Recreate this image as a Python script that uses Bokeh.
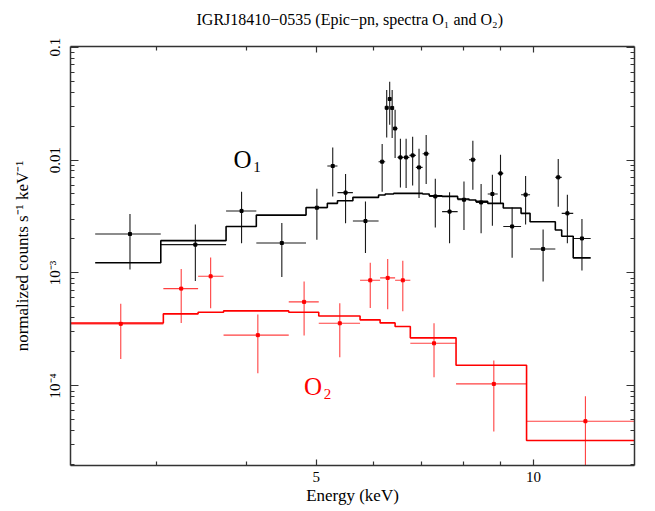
from bokeh.plotting import figure
from bokeh.models import Range1d, FixedTicker, LogAxis, CustomJSTickFormatter
from bokeh.core.properties import value
from bokeh.embed import file_html
from bokeh.resources import INLINE

# ---- Spectrum O1 (black) ----
o1_edges = [2.47, 3.045, 3.75, 4.13, 4.84, 5.18, 5.35, 5.62, 6.10, 6.23, 6.29, 6.34,
            6.40, 6.48, 6.60, 6.73, 6.87, 7.02, 7.17, 7.47, 7.85, 8.14, 8.32, 8.64,
            8.92, 9.08, 9.61, 9.89, 10.72, 10.94, 11.35, 12.0]
o1_energy = [2.76, 3.40, 3.94, 4.48, 5.01, 5.27, 5.49, 5.85, 6.17, 6.26, 6.32, 6.37,
             6.43, 6.54, 6.66, 6.80, 6.94, 7.10, 7.31, 7.65, 8.01, 8.24, 8.46, 8.77,
             9.00, 9.34, 9.75, 10.31, 10.82, 11.14, 11.67]
o1_rate = [2.21e-3, 1.78e-3, 3.54e-3, 1.84e-3, 3.78e-3, 8.85e-3, 5.14e-3, 2.88e-3,
           9.66e-3, 0.0290, 0.0347, 0.0289, 0.0190, 0.01054, 0.01054, 0.01098,
           8.60e-3, 0.01137, 4.76e-3, 3.49e-3, 4.45e-3, 0.01006, 4.21e-3, 5.0e-3,
           7.61e-3, 2.58e-3, 4.93e-3, 1.63e-3, 7.02e-3, 3.37e-3, 2.02e-3]
o1_rate_lo = [1.07e-3, 8.5e-4, 1.83e-3, 9.2e-4, 1.97e-3, 4.76e-3, 2.75e-3, 1.50e-3,
              5.24e-3, 0.01585, 0.0205, 0.01565, 0.0104, 5.72e-3, 5.65e-3, 5.96e-3,
              4.61e-3, 6.13e-3, 2.53e-3, 1.83e-3, 2.40e-3, 5.46e-3, 2.24e-3, 2.61e-3,
              4.08e-3, 1.36e-3, 2.68e-3, 8.4e-4, 3.86e-3, 1.83e-3, 1.05e-3]
o1_rate_hi = [3.33e-3, 2.68e-3, 5.24e-3, 2.77e-3, 5.57e-3, 0.0129, 7.52e-3, 4.28e-3,
              0.01385, 0.0416, 0.0493, 0.0416, 0.0279, 0.01543, 0.01543, 0.01608,
              0.01259, 0.01664, 6.83e-3, 5.17e-3, 6.46e-3, 0.01482, 6.13e-3, 7.41e-3,
              0.01114, 3.80e-3, 7.22e-3, 2.42e-3, 0.0102, 4.93e-3, 3.01e-3]
o1_model = [1.23e-3, 1.93e-3, 2.58e-3, 3.25e-3, 3.80e-3, 4.13e-3, 4.36e-3, 4.67e-3,
            4.90e-3, 5.0e-3, 5.0e-3, 5.0e-3, 5.06e-3, 5.06e-3, 5.06e-3, 5.06e-3,
            5.06e-3, 5.0e-3, 4.83e-3, 4.76e-3, 4.52e-3, 4.43e-3, 4.30e-3, 4.13e-3,
            4.13e-3, 3.76e-3, 3.37e-3, 2.84e-3, 2.40e-3, 2.11e-3, 1.36e-3]

# ---- Spectrum O2 (red) ----
o2_edges = [2.25, 3.07, 3.43, 3.72, 4.58, 5.04, 5.75, 6.13, 6.43, 6.75, 7.81, 9.78, 14.5]
o2_energy = [2.68, 3.25, 3.57, 4.15, 4.81, 5.39, 5.94, 6.28, 6.59, 7.28, 8.81, 11.8]
o2_rate = [3.54e-4, 7.26e-4, 9.33e-4, 2.81e-4, 5.54e-4, 3.58e-4, 8.60e-4, 9.03e-4,
           8.60e-4, 2.38e-4, 1.04e-4, 4.86e-5]
o2_rate_lo = [1.73e-4, 3.61e-4, 4.86e-4, 1.29e-4, 2.79e-4, 1.79e-4, 4.90e-4, 4.76e-4,
              4.57e-4, 1.19e-4, 3.94e-5, 1.0e-5]
o2_rate_hi = [5.32e-4, 1.085e-3, 1.37e-3, 4.28e-4, 8.38e-4, 5.38e-4, 1.23e-3, 1.33e-3,
              1.28e-3, 3.58e-4, 1.68e-4, 8.1e-5]
o2_model = [3.60e-4, 4.34e-4, 4.48e-4, 4.61e-4, 4.48e-4, 4.16e-4, 3.84e-4, 3.61e-4,
            3.35e-4, 2.66e-4, 1.52e-4, 3.28e-5]

x_major = [5, 10]
x_minor = [3, 4, 6, 7, 8, 9]
y_major = [1e-4, 1e-3, 1e-2, 1e-1]
y_minor = [m * 10.0 ** k for k in (-5, -4, -3, -2) for m in range(2, 10)]

FONT = "Liberation Serif"
AXIS_COLOR = "#333333"

p = figure(width=648, height=510, x_axis_type="log", y_axis_type="log",
           x_range=Range1d(2.283, 13.8), y_range=Range1d(1.97e-5, 0.1012),
           output_backend="svg", toolbar_location=None,
           min_border_left=70, min_border_right=14, min_border_top=46, min_border_bottom=45,
           title="IGRJ18410\u22120535 (Epic\u2212pn, spectra O\u2081 and O\u2082)")
p.grid.visible = False
p.outline_line_color = None
p.background_fill_color = "white"
p.border_fill_color = "white"

p.title.text_font = FONT
p.title.text_font_style = "normal"
p.title.text_font_size = "16px"
p.title.text_color = "black"
p.title.align = "left"
p.title.offset = 126
p.title.standoff = 13

xt = FixedTicker(ticks=x_major, minor_ticks=x_minor)
yt = FixedTicker(ticks=y_major, minor_ticks=y_minor)
xfmt = CustomJSTickFormatter(code="return String(Math.round(tick));")
blank = CustomJSTickFormatter(code="return '';")
yfmt = CustomJSTickFormatter(code="""
const e = Math.round(Math.log10(tick));
if (e == -1) return "0.1";
if (e == -2) return "0.01";
const sup = {"-": "\u207b", "0": "\u2070", "1": "\u00b9", "2": "\u00b2", "3": "\u00b3",
             "4": "\u2074", "5": "\u2075", "6": "\u2076", "7": "\u2077", "8": "\u2078", "9": "\u2079"};
return "10" + String(e).split("").map(c => sup[c]).join("");
""")

def style(ax, ticker, major_in, labels=True):
    ax.ticker = ticker
    ax.axis_line_color = AXIS_COLOR
    ax.axis_line_width = 1.5
    ax.major_tick_line_color = AXIS_COLOR
    ax.minor_tick_line_color = AXIS_COLOR
    ax.major_tick_line_width = 1.2
    ax.minor_tick_line_width = 1.2
    ax.major_tick_in = major_in
    ax.major_tick_out = 0
    ax.minor_tick_in = 4
    ax.minor_tick_out = 0
    if not labels:
        ax.formatter = blank
        ax.major_label_text_font_size = "1px"
        ax.major_label_standoff = 0
    else:
        ax.major_label_text_font = FONT
        ax.major_label_text_font_size = "15px"
        ax.major_label_text_color = "black"
        ax.axis_label_text_font = FONT
        ax.axis_label_text_font_size = "17px"
        ax.axis_label_text_font_style = "normal"
        ax.axis_label_text_color = "black"

bx = p.xaxis[0]
style(bx, xt, 6)
bx.formatter = xfmt
bx.axis_label = "Energy (keV)"
bx.major_label_standoff = 6
bx.axis_label_standoff = 1

ly = p.yaxis[0]
style(ly, yt, 8)
ly.formatter = yfmt
ly.axis_label = "normalized counts s\u207b\u00b9 keV\u207b\u00b9"
ly.major_label_orientation = "vertical"
ly.major_label_standoff = 7
ly.axis_label_standoff = 13

# mirrored ticks on top and right
tx = LogAxis()
style(tx, xt, 6, labels=False)
p.add_layout(tx, "above")
ry = LogAxis()
style(ry, yt, 8, labels=False)
p.add_layout(ry, "right")

# invisible spacer that lifts the title away from the frame
spacer = LogAxis(ticker=FixedTicker(ticks=x_major, minor_ticks=[]), formatter=blank,
                 axis_line_color=None, major_tick_line_color=None,
                 minor_tick_line_color=None, major_tick_in=0, major_tick_out=12,
                 minor_tick_in=0, minor_tick_out=0,
                 major_label_text_font_size="1px", major_label_standoff=0)
p.add_layout(spacer, "above")

def step_xy(edges, model):
    xs, ys = [], []
    for i, m in enumerate(model):
        xs += [edges[i], edges[i + 1]]
        ys += [m, m]
    return xs, ys

def draw(edges, energy, rate, lo, hi, model, color, bar_alpha):
    mx, my = step_xy(edges, model)
    p.line(mx, my, line_color=color, line_width=1.6)
    p.segment(x0=edges[:-1], y0=rate, x1=edges[1:], y1=rate,
              line_color=color, line_width=1.1, line_alpha=bar_alpha)
    p.segment(x0=energy, y0=lo, x1=energy, y1=hi,
              line_color=color, line_width=1.1, line_alpha=bar_alpha)
    p.scatter(energy, rate, marker="square", size=3, fill_color=color,
              line_color=color)

draw(o1_edges, o1_energy, o1_rate, o1_rate_lo, o1_rate_hi, o1_model, "black", 0.9)
draw(o2_edges, o2_energy, o2_rate, o2_rate_lo, o2_rate_hi, o2_model, "#ff0000", 0.75)

# Spectrum name labels
p.text(x=[3.84], y=[1.01e-2], text=["O"], text_font=value(FONT),
       text_font_size=value("25px"), text_color="black",
       text_align="left", text_baseline="alphabetic")
p.text(x=[4.09], y=[8.71e-3], text=["1"], text_font=value(FONT),
       text_font_size=value("15px"), text_color="black",
       text_align="left", text_baseline="alphabetic")
p.text(x=[4.81], y=[9.85e-5], text=["O"], text_font=value(FONT),
       text_font_size=value("25px"), text_color="#ff0000",
       text_align="left", text_baseline="alphabetic")
p.text(x=[5.12], y=[8.48e-5], text=["2"], text_font=value(FONT),
       text_font_size=value("15px"), text_color="#ff0000",
       text_align="left", text_baseline="alphabetic")

open("out.html", "w").write(file_html(p, INLINE))
